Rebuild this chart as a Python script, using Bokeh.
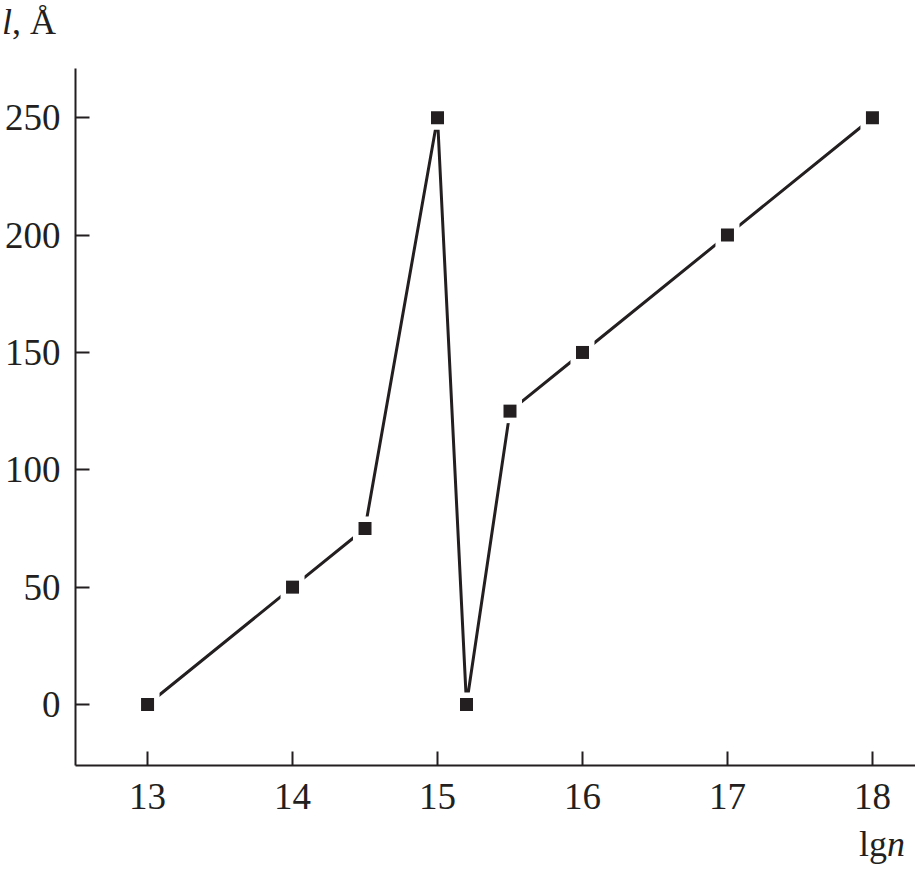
from bokeh.plotting import figure
from bokeh.models import Range1d, FixedTicker, Div
from bokeh.layouts import column
from bokeh.embed import file_html
from bokeh.resources import INLINE

lg_n = [13, 14, 14.5, 15, 15.2, 15.5, 16, 17, 18]
l_values = [0, 50, 75, 250, 0, 125, 150, 200, 250]
x_ticks = [13, 14, 15, 16, 17, 18]
y_ticks = [0, 50, 100, 150, 200, 250]

INK = "#231f20"
FONT = "Liberation Serif"
FS = "37px"

TOP_H = 50

p = figure(width=915, height=770, output_backend="svg", toolbar_location=None,
           x_range=Range1d(12.503, 18.297), y_range=Range1d(-26, 271),
           min_border_left=75, min_border_right=0, min_border_top=68 - TOP_H,
           min_border_bottom=55)
p.outline_line_color = None
p.xgrid.visible = False
p.ygrid.visible = False
p.background_fill_color = "white"
p.margin = 0

for ax in (p.xaxis[0], p.yaxis[0]):
    ax.axis_line_color = INK
    ax.axis_line_width = 2
    ax.major_tick_line_color = INK
    ax.major_tick_line_width = 2
    ax.major_tick_in = 14
    ax.major_tick_out = 0
    ax.minor_tick_line_color = None
    ax.major_label_text_font = FONT
    ax.major_label_text_font_size = FS
    ax.major_label_text_color = INK

p.xaxis[0].ticker = FixedTicker(ticks=x_ticks)
p.yaxis[0].ticker = FixedTicker(ticks=y_ticks)
p.xaxis[0].major_label_standoff = 18
p.yaxis[0].major_label_standoff = 15

p.line(lg_n, l_values, line_color=INK, line_width=3)
p.scatter(lg_n, l_values, marker="square", size=24, fill_color="white", line_color=None)
p.scatter(lg_n, l_values, marker="square", size=13, fill_color=INK, line_color=None)

span_style = (f"font-family:'{FONT}';font-size:36px;line-height:40px;color:{INK};"
              "white-space:nowrap;display:block;")
y_title = Div(text=f'<span style="{span_style}padding-left:2px;padding-top:2px;">'
                   f'<i>l</i>, Å</span>',
              width=915, height=TOP_H, margin=0)
x_title = Div(text=f'<span style="{span_style}padding-left:859px;padding-top:4px;">'
                   f'lg<i>n</i></span>',
              width=915, height=874 - TOP_H - 770, margin=0)

layout = column(y_title, p, x_title, spacing=0, margin=0)

open("out.html", "w").write(file_html(layout, INLINE))
